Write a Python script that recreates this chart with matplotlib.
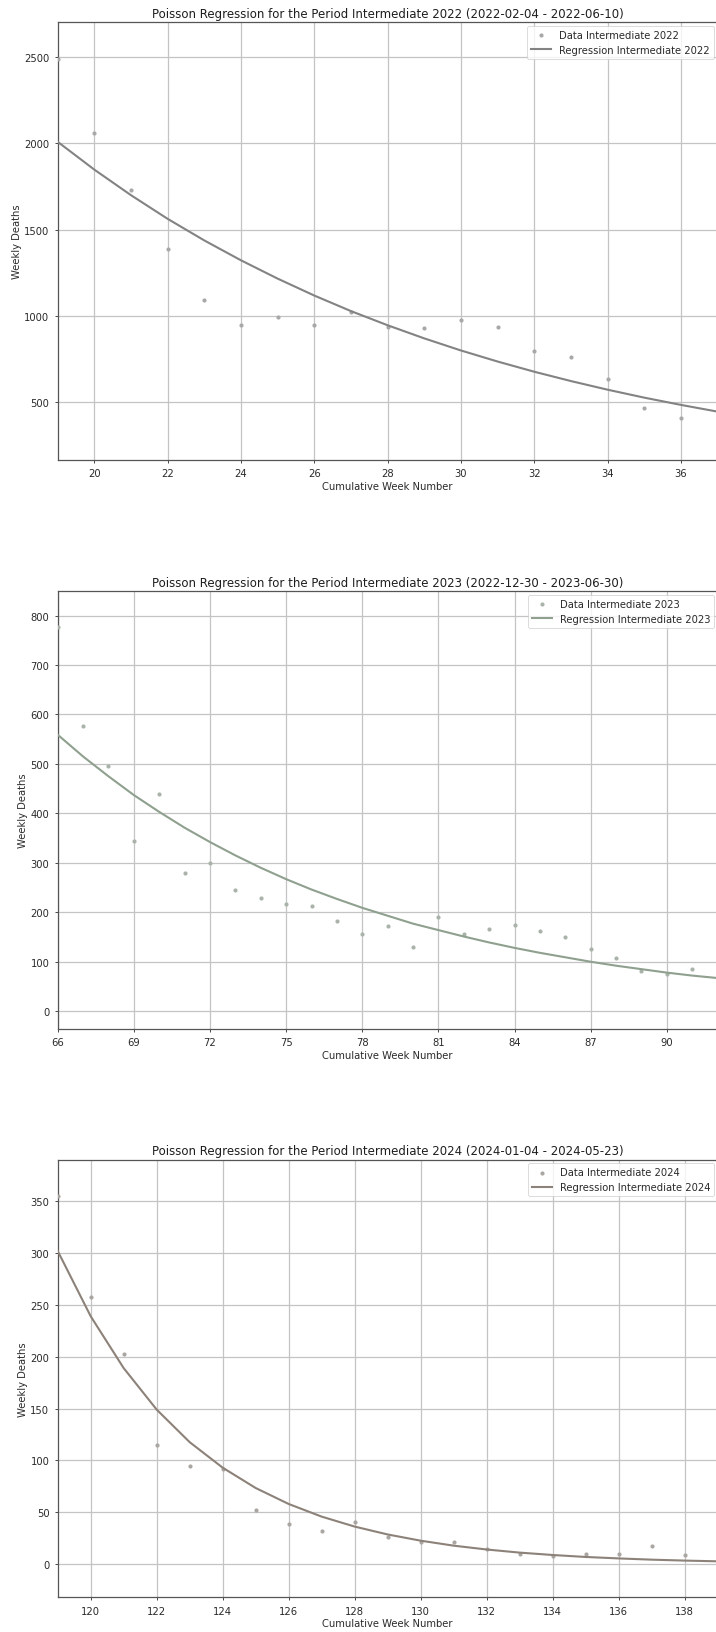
import matplotlib
matplotlib.use("Agg")
import matplotlib.pyplot as plt

# ---- Period 1: Intermediate 2022 ----
weeks_2022 = list(range(19, 38))
deaths_2022 = [2490, 2060, 1732, 1385, 1094, 949, 996, 947, 1021, 934, 930, 978, 934,
               799, 760, 635, 465, 407, 380]
reg_2022 = [2008, 1847, 1699, 1562, 1437, 1322, 1216, 1118, 1028, 946, 870, 800, 736,
            677, 623, 573, 527, 485, 446]

# ---- Period 2: Intermediate 2023 ----
weeks_2023 = list(range(66, 93))
deaths_2023 = [776, 576, 496, 345, 440, 279, 299, 245, 228, 216, 213, 183, 156, 172,
               129, 191, 156, 166, 175, 162, 150, 125, 108, 81, 76, 86, 70]
reg_2023 = [559, 515, 475, 437, 403, 371, 342, 315, 290, 267, 246, 227, 209, 193, 177,
            164, 151, 139, 128, 118, 109, 100, 92, 85, 78, 72, 67]

# ---- Period 3: Intermediate 2024 ----
weeks_2024 = list(range(119, 140))
deaths_2024 = [355, 258, 203, 115, 95, 92, 52, 39, 31.5, 41, 26, 21, 21, 15, 9.6, 8,
               9.6, 9.6, 17.4, 8.4, 5]
reg_2024 = [302, 239, 189, 149, 117.6, 93, 73.4, 58, 45.8, 36.2, 28.6, 22.6, 17.8, 14.1,
            11.1, 8.8, 6.9, 5.5, 4.3, 3.4, 2.7]

titles = [
    "Poisson Regression for the Period Intermediate 2022 (2022-02-04 - 2022-06-10)",
    "Poisson Regression for the Period Intermediate 2023 (2022-12-30 - 2023-06-30)",
    "Poisson Regression for the Period Intermediate 2024 (2024-01-04 - 2024-05-23)",
]
labels = ["Intermediate 2022", "Intermediate 2023", "Intermediate 2024"]
line_colors = ["#838383", "#8fa08f", "#8c8279"]
point_colors = ["#a8a8a8", "#a9b3a9", "#aaa6a2"]
ylims = [(166, 2700), (-36, 849), (-32, 390)]
xticks = [list(range(20, 37, 2)), list(range(66, 91, 3)), list(range(120, 139, 2))]

fig = plt.figure(figsize=(7.16, 16.33), dpi=100)
H = 1633.0
tops = [23.3, 592.3, 1160.7]
bots = [461.0, 1030.0, 1598.3]
left = 57.7 / 716
width = (717.6 - 57.7) / 716

data = [(weeks_2022, deaths_2022, reg_2022),
        (weeks_2023, deaths_2023, reg_2023),
        (weeks_2024, deaths_2024, reg_2024)]

fs = 7.2
txt = "#2a2a2a"
for i, (w, d, r) in enumerate(data):
    ax = fig.add_axes([left, 1 - bots[i] / H, width, (bots[i] - tops[i]) / H])
    ax.scatter(w, d, s=9, color=point_colors[i], label=f"Data {labels[i]}", zorder=3,
               linewidths=0)
    ax.plot(w, r, color=line_colors[i], lw=1.5, label=f"Regression {labels[i]}", zorder=4)
    ax.set_xlim(w[0], w[-1])
    ax.set_ylim(*ylims[i])
    ax.set_xticks(xticks[i])
    ax.grid(True, color="#c4c4c4", lw=0.9)
    ax.set_axisbelow(True)
    ax.tick_params(labelsize=fs, colors=txt, length=2.5, width=0.6)
    ax.set_title(titles[i], fontsize=8.5, color="#1e1e1e", pad=4)
    ax.set_xlabel("Cumulative Week Number", fontsize=fs, color=txt, labelpad=2)
    ax.set_ylabel("Weekly Deaths", fontsize=fs, color=txt, labelpad=1.5)
    for sp in ax.spines.values():
        sp.set_color("#555555")
        sp.set_linewidth(0.9)
    leg = ax.legend(loc="upper right", fontsize=fs, framealpha=0.8, borderaxespad=0.35,
                    handlelength=2.0, labelcolor=txt)
    leg.get_frame().set_linewidth(0.6)

fig.savefig("out.png", dpi=100)
